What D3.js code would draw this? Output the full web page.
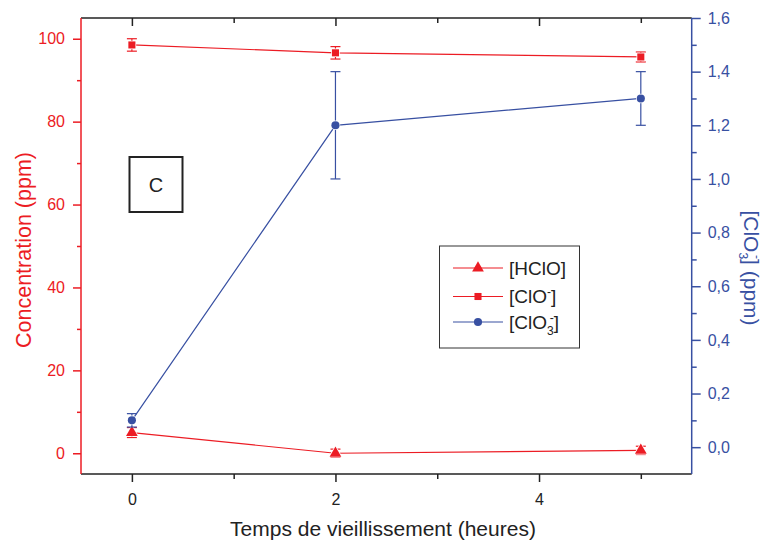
<!DOCTYPE html>
<html>
<head>
<meta charset="utf-8">
<script src="https://cdn.jsdelivr.net/npm/d3@7"></script>
<style>
  html, body { margin: 0; padding: 0; background: #fff; overflow: hidden; }
  svg { display: block; font-family: "Liberation Sans", Arial, sans-serif; }
</style>
</head>
<body>
<svg id="chart" width="765" height="547"></svg>
<script>
// ---- data ----
const timeH = [0, 2, 5];
const hclo = [5.0, 0.0, 0.7];
const hcloErr = [1.2, 1.0, 1.0];
const clo = [98.5, 96.6, 95.6];
const cloErr = [1.5, 1.5, 1.2];
const clo3 = [0.10, 1.20, 1.30];
const clo3Err = [0.025, 0.20, 0.10];
const xMajorTicks = [0, 2, 4];
const xMinorTicks = [1, 3, 5];
const leftMajorTicks = [0, 20, 40, 60, 80, 100];
const leftMinorTicks = [10, 30, 50, 70, 90];
const rightMajorTicks = [0, 0.2, 0.4, 0.6, 0.8, 1.0, 1.2, 1.4, 1.6];
const rightMinorTicks = [0.1, 0.3, 0.5, 0.7, 0.9, 1.1, 1.3, 1.5];
const xTitle = "Temps de vieillissement (heures)";
const leftTitle = "Concentration (ppm)";
const panelLabel = "C";

const RED = "#ec1c24";
const BLUE = "#3850a2";

const svg = d3.select("#chart");
const L = 81, R = 691.7, T = 18, B = 474;

const x = d3.scaleLinear().domain([-0.5, 5.5]).range([L, R]);
const yL = d3.scaleLinear().domain([-5, 105]).range([B, T]);
const yR = d3.scaleLinear().domain([-0.1, 1.6]).range([B, T]);

function styleAxis(g, color, fontSize) {
  g.select(".domain").remove();
  g.selectAll(".tick line").attr("stroke", color).attr("stroke-width", 1.5);
  g.selectAll(".tick text").attr("fill", color).attr("font-size", fontSize)
    .attr("font-family", '"Liberation Sans", Arial, sans-serif');
}

// bottom axis
const gb = svg.append("g").attr("transform", `translate(0,${B})`);
gb.call(d3.axisBottom(x).tickValues(xMajorTicks).tickSize(8).tickPadding(12).tickFormat(d3.format("d")));
styleAxis(gb, "#222", 16);
const gbm = svg.append("g").attr("transform", `translate(0,${B})`);
gbm.call(d3.axisBottom(x).tickValues(xMinorTicks).tickSize(5).tickFormat(""));
styleAxis(gbm, "#222", 16);
// top axis (inward ticks)
const gt = svg.append("g").attr("transform", `translate(0,${T})`);
gt.call(d3.axisBottom(x).tickValues(xMajorTicks).tickSize(8).tickFormat(""));
styleAxis(gt, "#222", 16);
const gtm = svg.append("g").attr("transform", `translate(0,${T})`);
gtm.call(d3.axisBottom(x).tickValues(xMinorTicks).tickSize(5).tickFormat(""));
styleAxis(gtm, "#222", 16);

// left axis
const gl = svg.append("g").attr("transform", `translate(${L},0)`);
gl.call(d3.axisLeft(yL).tickValues(leftMajorTicks).tickSize(8).tickPadding(8).tickFormat(d3.format("d")));
styleAxis(gl, RED, 16);
const glm = svg.append("g").attr("transform", `translate(${L},0)`);
glm.call(d3.axisLeft(yL).tickValues(leftMinorTicks).tickSize(4).tickFormat(""));
styleAxis(glm, RED, 16);

// right axis
const fmtComma = d => d3.format(".1f")(d).replace(".", ",");
const gr = svg.append("g").attr("transform", `translate(${R},0)`);
gr.call(d3.axisRight(yR).tickValues(rightMajorTicks).tickSize(9).tickPadding(7).tickFormat(fmtComma));
styleAxis(gr, BLUE, 16);
const grm = svg.append("g").attr("transform", `translate(${R},0)`);
grm.call(d3.axisRight(yR).tickValues(rightMinorTicks).tickSize(5).tickFormat(""));
styleAxis(grm, BLUE, 16);

// frame lines
svg.append("line").attr("x1", L).attr("x2", R).attr("y1", T).attr("y2", T).attr("stroke", "#222").attr("stroke-width", 1.5);
svg.append("line").attr("x1", L).attr("x2", R).attr("y1", B).attr("y2", B).attr("stroke", "#222").attr("stroke-width", 1.5);
svg.append("line").attr("x1", L).attr("x2", L).attr("y1", T).attr("y2", B).attr("stroke", RED).attr("stroke-width", 1.5);
svg.append("line").attr("x1", R).attr("x2", R).attr("y1", T).attr("y2", B).attr("stroke", BLUE).attr("stroke-width", 1.5);

// series
const series = [
  { vals: hclo, err: hcloErr, y: yL, color: RED, sym: d3.symbolTriangle, size: 60 },
  { vals: clo, err: cloErr, y: yL, color: RED, sym: d3.symbolSquare, size: 50 },
  { vals: clo3, err: clo3Err, y: yR, color: BLUE, sym: d3.symbolCircle, size: 52 }
];

const plot = svg.append("g");
series.forEach(s => {
  const pts = timeH.map((t, i) => ({ t, v: s.vals[i], e: s.err[i] }));
  plot.append("path")
    .datum(pts)
    .attr("fill", "none")
    .attr("stroke", s.color)
    .attr("stroke-width", 1.2)
    .attr("d", d3.line().x(d => x(d.t)).y(d => s.y(d.v)));
  const eg = plot.append("g").attr("stroke", s.color).attr("stroke-width", 1.2);
  pts.forEach(d => {
    eg.append("line").attr("x1", x(d.t)).attr("x2", x(d.t))
      .attr("y1", s.y(d.v - d.e)).attr("y2", s.y(d.v + d.e));
    [d.v - d.e, d.v + d.e].forEach(v => {
      eg.append("line").attr("x1", x(d.t) - 5).attr("x2", x(d.t) + 5)
        .attr("y1", s.y(v)).attr("y2", s.y(v));
    });
  });
  plot.append("g").selectAll("path").data(pts).join("path")
    .attr("transform", d => `translate(${x(d.t)},${s.y(d.v)})`)
    .attr("d", d3.symbol().type(s.sym).size(s.size))
    .attr("fill", s.color)
    .attr("stroke", "#fff")
    .attr("stroke-width", 1.5)
    .attr("paint-order", "stroke");
});

// axis titles
svg.append("text")
  .attr("x", 383).attr("y", 536)
  .attr("text-anchor", "middle").attr("font-size", 21).attr("fill", "#222")
  .text(xTitle);

svg.append("text")
  .attr("transform", "translate(31,250) rotate(-90)")
  .attr("text-anchor", "middle").attr("font-size", 21.5).attr("fill", RED)
  .text(leftTitle);

const rt = svg.append("text")
  .attr("transform", "translate(744,268) rotate(90)")
  .attr("text-anchor", "middle").attr("font-size", 21).attr("fill", BLUE);
rt.append("tspan").text("[ClO");
rt.append("tspan").attr("font-size", 12).attr("dy", 5).text("3");
rt.append("tspan").attr("font-size", 12).attr("dx", -4).attr("dy", -14).text("-");
rt.append("tspan").attr("dy", 9).text("] (ppm)");

// panel label box
svg.append("rect").attr("x", 129.5).attr("y", 157).attr("width", 53).attr("height", 55)
  .attr("fill", "none").attr("stroke", "#222").attr("stroke-width", 2);
svg.append("text").attr("x", 156).attr("y", 191.5).attr("text-anchor", "middle")
  .attr("font-size", 20).attr("fill", "#222").text(panelLabel);

// legend
const lg = svg.append("g");
lg.append("rect").attr("x", 439.5).attr("y", 246).attr("width", 140).attr("height", 102)
  .attr("fill", "#fff").attr("stroke", "#333").attr("stroke-width", 1);
const legendRows = [
  { y: 268, s: series[0], parts: [["[HClO]", 0, 0]] },
  { y: 296.5, s: series[1], parts: [["[ClO", 0, 0], ["-", -7, 0], ["]", 7, 0]] },
  { y: 322, s: series[2], parts: [["[ClO", 0, 0], ["3", 6, 0], ["-", -13, -4], ["]", 7, 0]] }
];
legendRows.forEach(r => {
  lg.append("line").attr("x1", 453).attr("x2", 503).attr("y1", r.y).attr("y2", r.y)
    .attr("stroke", r.s.color).attr("stroke-width", 1.2);
  lg.append("path").attr("transform", `translate(478,${r.y})`)
    .attr("d", d3.symbol().type(r.s.sym).size(r.s.size)).attr("fill", r.s.color);
  const t = lg.append("text").attr("x", 509).attr("y", r.y + 6.5).attr("font-size", 19).attr("fill", "#222");
  r.parts.forEach(([txt, dy, dx]) => {
    const sp = t.append("tspan").text(txt);
    if (dy) sp.attr("dy", dy);
    if (dx) sp.attr("dx", dx);
    if (txt === "-" || txt === "3") sp.attr("font-size", 12);
  });
});
</script>
</body>
</html>
